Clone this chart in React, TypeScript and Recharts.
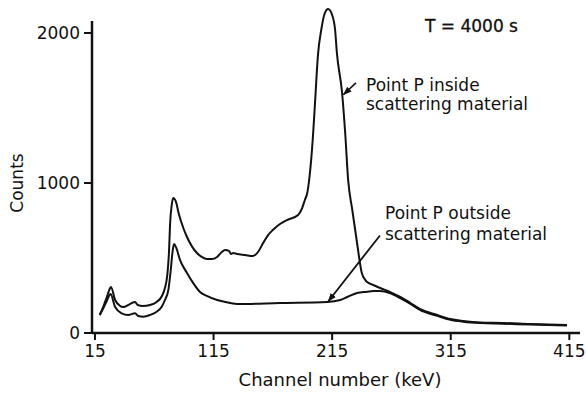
import React from 'react';
import { LineChart, Line, XAxis, YAxis, ReferenceLine } from 'recharts';

// channel number vs counts
const insideChannels = [19, 22, 25, 27.5, 28.5, 32, 36, 38.6, 44.5, 48.8, 51, 55.5, 61.4, 67, 71.5, 74, 76, 77.5, 78.3, 79.7, 81, 83.4, 85.3, 89.5, 92.6, 101, 105, 109.5, 113.7, 118, 122, 124.7, 128, 129.8, 131.5, 134.8, 141.6, 148, 152.5, 156.8, 161, 165, 171, 177, 186.3, 189.7, 192, 194, 195.6, 197.3, 199, 200.7, 203, 206, 208.5, 211.6, 215, 217.5, 219, 223.4, 226, 228.5, 232, 236, 240, 243, 244.5, 249.6, 255.5, 264, 272.4, 281, 289, 303.6, 314.6, 325.5, 340, 359, 382, 413];
const insideCounts = [120, 175, 240, 295, 307, 220, 182, 173, 193, 207, 187, 180, 187, 207, 247, 300, 387, 553, 720, 853, 900, 873, 807, 700, 640, 533, 507, 493, 493, 507, 540, 553, 547, 527, 533, 527, 520, 513, 540, 600, 653, 687, 727, 753, 787, 833, 887, 933, 1020, 1153, 1333, 1553, 1850, 2030, 2125, 2160, 2120, 2020, 1867, 1600, 1333, 1020, 820, 600, 400, 353, 340, 320, 300, 273, 240, 200, 160, 120, 93, 80, 70, 67, 60, 53];

const outsideChannels = [19, 22, 25, 27.2, 28.2, 31.9, 37.5, 43, 48.8, 51.5, 55.8, 61.4, 67, 71.3, 74, 76.9, 78.9, 80.6, 81.7, 83.4, 86.7, 92.6, 98, 103.6, 109.3, 118, 126, 137, 171, 210.8, 221.8, 227.7, 236, 244.3, 249.9, 255.5, 264, 272.4, 281, 289, 303.6, 314.6, 325.5, 340, 359, 382, 413];
const outsideCounts = [120, 165, 215, 252, 260, 175, 131, 120, 131, 113, 109, 120, 142, 175, 220, 287, 420, 553, 593, 571, 487, 400, 331, 273, 247, 220, 205, 193, 200, 207, 220, 240, 267, 275, 280, 280, 265, 233, 194, 154, 114, 88, 75, 66, 62, 56, 50];

const xTicks = [15, 115, 215, 315, 415];
const yTicks = [0, 1000, 2000];

const insideData = insideChannels.map((ch, i) => ({ ch, counts: insideCounts[i] }));
const outsideData = outsideChannels.map((ch, i) => ({ ch, counts: outsideCounts[i] }));

const X_MIN = 12.5;
const X_MAX = 424;
const Y_TOP = 2080; // where the drawn y-axis line stops
const ink = '#111';
const font = 'DejaVu Sans, sans-serif';

export default function App() {
  return (
    <div style={{ position: 'absolute', left: 0, top: 0, background: '#fff' }}>
      <LineChart width={586} height={394} margin={{ top: 3, right: 6, bottom: 31, left: 0 }}>
        <defs>
          <marker id="arrowHead" markerWidth="9" markerHeight="8" refX="8" refY="4" orient="auto" markerUnits="userSpaceOnUse">
            <path d="M0,0.8 L9,4 L0,7.2 z" fill={ink} />
          </marker>
        </defs>
        <XAxis
          type="number"
          dataKey="ch"
          domain={[X_MIN, X_MAX]}
          ticks={xTicks}
          height={30}
          tickSize={7}
          tickMargin={5}
          axisLine={{ stroke: ink, strokeWidth: 2.5 }}
          tickLine={{ stroke: ink, strokeWidth: 2 }}
          tick={{ fontSize: 17, fill: ink, fontFamily: font }}
        />
        <YAxis
          type="number"
          dataKey="counts"
          domain={[0, 2200]}
          ticks={yTicks}
          width={92}
          tickSize={8}
          tickMargin={4}
          axisLine={false}
          tickLine={{ stroke: ink, strokeWidth: 2 }}
          tick={{ fontSize: 17, fill: ink, fontFamily: font }}
        />
        <ReferenceLine
          segment={[{ x: X_MIN, y: 0 }, { x: X_MIN, y: Y_TOP }]}
          stroke={ink}
          strokeWidth={2.5}
          ifOverflow="visible"
        />
        <Line data={outsideData} dataKey="counts" type="monotone" stroke={ink} strokeWidth={2} dot={false} isAnimationActive={false} />
        <Line data={insideData} dataKey="counts" type="monotone" stroke={ink} strokeWidth={2} dot={false} isAnimationActive={false} />
        <ReferenceLine
          segment={[{ x: 235.1, y: 1667 }, { x: 224.6, y: 1590 }]}
          stroke={ink}
          strokeWidth={1.6}
          markerEnd="url(#arrowHead)"
          ifOverflow="visible"
        />
        <ReferenceLine
          segment={[{ x: 255.3, y: 650 }, { x: 211.8, y: 212 }]}
          stroke={ink}
          strokeWidth={1.8}
          markerEnd="url(#arrowHead)"
          ifOverflow="visible"
        />
        <text x={425} y={32} fontSize={17} fill={ink} stroke={ink} strokeWidth={0.3} fontFamily={font}>T = 4000 s</text>
        <text x={366} y={91} fontSize={17} fill={ink} fontFamily={font}>Point P inside</text>
        <text x={366} y={110} fontSize={17} fill={ink} fontFamily={font}>scattering material</text>
        <text x={385} y={219} fontSize={17} fill={ink} fontFamily={font}>Point P outside</text>
        <text x={385} y={240} fontSize={17} fill={ink} fontFamily={font}>scattering material</text>
        <text x={340} y={386} fontSize={18} fill={ink} fontFamily={font} textAnchor="middle">Channel number (keV)</text>
        <text x={23} y={183} fontSize={17} fill={ink} fontFamily={font} textAnchor="middle" transform="rotate(-90, 23, 183)">Counts</text>
      </LineChart>
    </div>
  );
}
